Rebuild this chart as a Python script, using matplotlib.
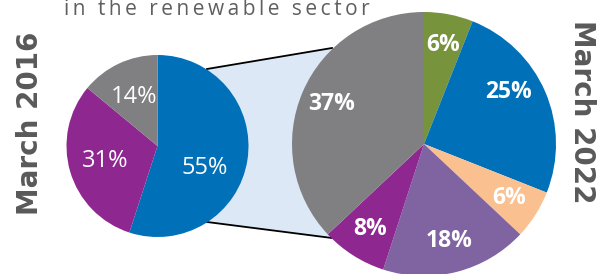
import matplotlib.pyplot as plt
from matplotlib.patches import Polygon

# share of installed capacity
vals_2016 = [55, 31, 14]
colors_2016 = ['#0070b8', '#8e278f', '#808083']

vals_2022 = [6, 25, 6, 18, 8, 37]
colors_2022 = ['#77933c', '#0070b8', '#fac090', '#8064a2', '#8e278f', '#808083']

title = 'in the renewable sector'
label_2016 = 'March 2016'
label_2022 = 'March 2022'

W, H = 616, 274
fig = plt.figure(figsize=(W / 100, H / 100), dpi=100)
ax = fig.add_axes([0, 0, 1, 1])

# pie geometry in pixel units (y up)
c_left, r_left = (157.5, 128), 91
c_right, r_right = (424, 130), 132

# light blue zoom band and its two edges
lu, ll = (207, 205), (207, 52)
ru, rl = (332, 226), (332, 36)
ax.add_patch(Polygon([lu, ru, rl, ll], closed=True, facecolor='#dce8f5',
                     edgecolor='none', zorder=0))
ax.plot([lu[0], ru[0]], [lu[1], ru[1]], color='black', lw=1.3, zorder=1)
ax.plot([ll[0], rl[0]], [ll[1], rl[1]], color='black', lw=1.3, zorder=1)

wedges, texts, autotexts = ax.pie(vals_2016, colors=colors_2016, startangle=90,
                                  counterclock=False, center=c_left, radius=r_left,
                                  autopct='%.0f%%', pctdistance=0.6,
                                  wedgeprops=dict(linewidth=0),
                                  textprops=dict(color='white', fontsize=17,
                                                 family='Open Sans'))
for w in wedges:
    w.set_zorder(2)
# nudge the big blue label like the original
x, y = autotexts[0].get_position()
autotexts[0].set_position((x - 7, y - 13))

wedges, texts, autotexts = ax.pie(vals_2022, colors=colors_2022, startangle=90,
                                  counterclock=False, center=c_right, radius=r_right,
                                  autopct='%.0f%%', pctdistance=0.76,
                                  wedgeprops=dict(linewidth=0),
                                  textprops=dict(color='white', fontsize=16.5,
                                                 fontweight='bold', family='Open Sans'))
for w in wedges:
    w.set_zorder(2)
x, y = autotexts[1].get_position()
autotexts[1].set_position((x - 8, y + 12))

for t in ax.texts:
    t.set_zorder(3)

ax.text(30, 151, label_2016, rotation=90, ha='center', va='center',
        fontsize=20, fontweight='bold', color='#595959')
ax.text(582, 162, label_2022, rotation=270, ha='center', va='center',
        fontsize=20, fontweight='bold', color='#595959')

ax.text(217, 259, '\u2009'.join(title), ha='center', va='baseline',
        fontsize=15, color='#5f5f5f', family=['Open Sans', 'DejaVu Sans'])

ax.set_xlim(0, W)
ax.set_ylim(0, H)
ax.set_aspect('equal')
ax.axis('off')

fig.savefig('out.png', dpi=100)
